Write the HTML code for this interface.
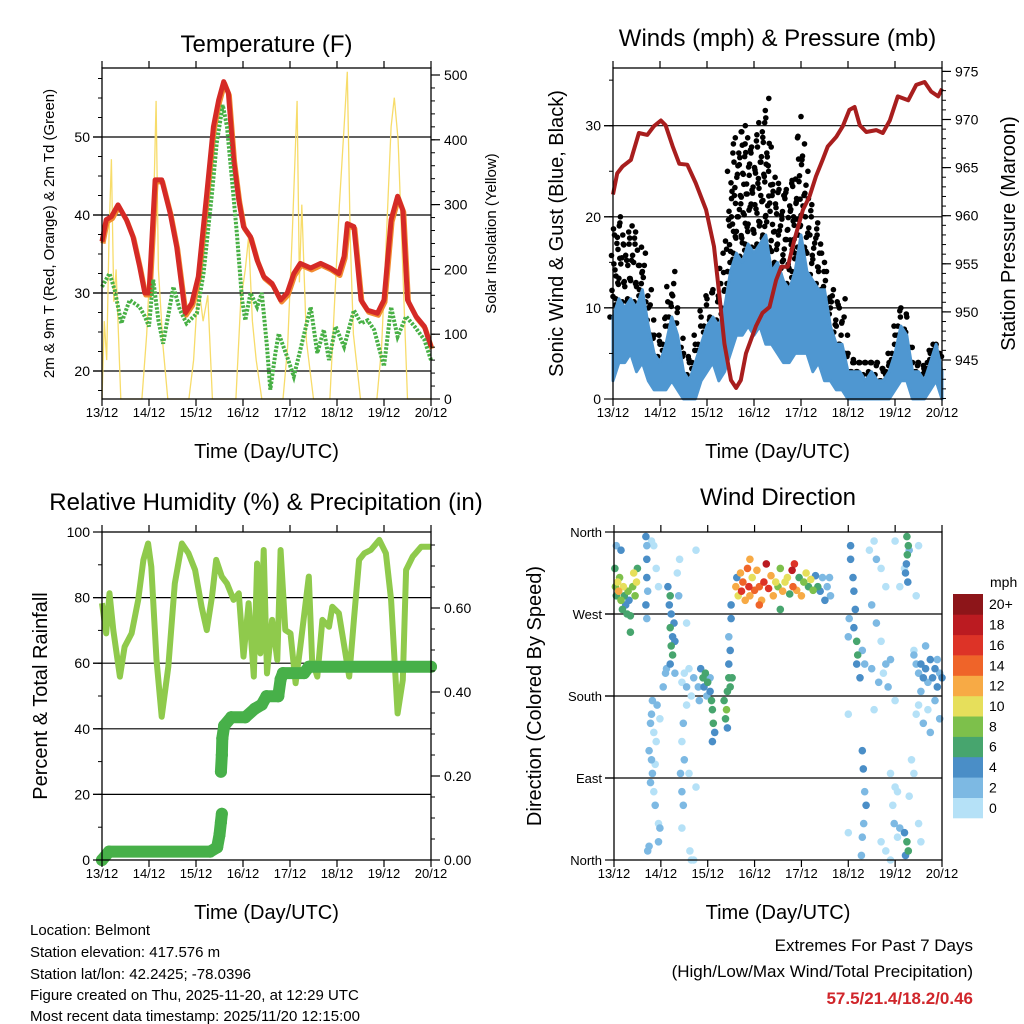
<!DOCTYPE html>
<html><head><meta charset="utf-8"><style>
html,body{margin:0;padding:0;background:#fff;}
svg{display:block;font-family:"Liberation Sans",sans-serif;}
</style></head><body>
<svg id="fig" width="1024" height="1024" viewBox="0 0 1024 1024" xmlns="http://www.w3.org/2000/svg">
<rect width="1024" height="1024" fill="#fff"/>
<g id="g1"></g>
<g id="g2"></g>
<g id="g3"></g>
<g id="g4"></g>
<g font-size="15" fill="#000">
<text x="30" y="935">Location: Belmont</text>
<text x="30" y="957">Station elevation: 417.576 m</text>
<text x="30" y="979">Station lat/lon: 42.2425; -78.0396</text>
<text x="30" y="1000">Figure created on Thu, 2025-11-20, at 12:29 UTC</text>
<text x="30" y="1021">Most recent data timestamp: 2025/11/20 12:15:00</text>
</g>
<g text-anchor="end">
<text x="973" y="951" font-size="17">Extremes For Past 7 Days</text>
<text x="973" y="977" font-size="17">(High/Low/Max Wind/Total Precipitation)</text>
<text x="973" y="1004" font-size="17" font-weight="bold" fill="#d0262b">57.5/21.4/18.2/0.46</text>
</g>
</svg>
<script>
// ---------- data ----------
const dayLabels = ["13/12","14/12","15/12","16/12","17/12","18/12","19/12","20/12"];
const tempT = [0,.09,.2,.34,.52,.66,.8,.91,1.0,1.13,1.27,1.45,1.59,1.77,1.91,2.05,2.23,2.37,2.48,2.59,2.69,2.8,2.91,3.01,3.16,3.3,3.44,3.62,3.8,3.94,4.08,4.22,4.44,4.65,4.86,5.04,5.15,5.22,5.36,5.51,5.65,5.86,6.0,6.15,6.29,6.4,6.5,6.68,6.86,7.0];
const tempV = [36.6,39.4,39.8,41.3,39.4,37.2,33.4,30.0,30.0,44.5,44.5,40.2,35.9,27.4,28.7,32.1,42.8,51.3,54.7,57.1,55.6,47.1,41.9,38.5,37.2,34.2,32.1,31.2,29.1,30.0,32.5,33.8,33.2,33.8,33.2,32.5,34.7,38.9,38.5,29.1,27.8,27.4,29.1,39.4,42.4,40.6,29.1,27.0,25.7,23.1];
const dewT = [0,.16,.27,.41,.59,.8,.91,1.0,1.09,1.2,1.3,1.52,1.66,1.8,2.02,2.16,2.34,2.44,2.57,2.66,2.76,2.87,2.98,3.05,3.16,3.3,3.4,3.51,3.58,3.69,3.76,3.94,4.08,4.22,4.44,4.58,4.72,4.83,4.97,5.15,5.36,5.51,5.65,5.79,6.0,6.15,6.29,6.47,6.65,6.86,7.0];
const dewV = [30.8,32.5,30.4,26.1,29.1,28.2,27.0,25.7,31.7,26.5,23.5,30.8,27.8,26.1,27.4,32.5,42.8,49.2,54.1,51.3,44.9,37.6,29.1,26.5,30.0,28.2,30.0,23.1,17.6,22.3,24.8,21.8,19.3,22.7,28.2,22.3,25.3,21.4,25.7,23.1,27.8,26.1,26.5,25.3,20.6,28.2,24.4,27.0,25.7,24.0,21.4];
const solarT = [0,.05,.1,.15,.2,.25,.3,.4,.85,.95,1.05,1.1,1.15,1.2,1.3,1.4,1.85,1.95,2.05,2.15,2.25,2.35,2.85,2.95,3.05,3.12,3.2,3.28,3.4,3.85,3.95,4.05,4.15,4.2,4.25,4.35,4.5,4.85,4.95,5.05,5.15,5.22,5.28,5.35,5.5,5.85,5.95,6.05,6.15,6.22,6.3,6.4,6.5,7];
const solarV = [0,120,60,250,370,150,200,0,0,100,250,300,460,200,80,0,0,60,180,120,160,0,0,150,200,250,120,60,0,0,80,260,460,180,300,90,0,0,150,300,420,505,250,100,0,0,80,250,420,465,400,200,0,0];
const presT = [0,.09,.2,.38,.55,.73,.87,1.02,1.12,1.27,1.41,1.58,1.76,1.98,2.15,2.26,2.37,2.51,2.62,2.72,2.83,3.04,3.18,3.33,3.47,3.58,3.72,3.86,4.04,4.18,4.32,4.46,4.57,4.75,4.89,5.03,5.14,5.25,5.39,5.6,5.74,5.89,6.06,6.28,6.45,6.63,6.77,6.92,7.0];
const presV = [962.2,964.4,965.1,965.8,968.6,968.4,969.3,969.9,969.4,967.2,965.4,965.3,963.4,960.6,956.8,951.9,946.7,942.9,942.1,942.9,945.7,948.5,949.9,950.5,953.3,954.7,954.7,957.5,960.6,962.0,964.1,965.8,967.2,968.2,969.3,971.0,971.3,969.4,968.7,968.9,968.6,969.9,972.4,972.0,973.6,973.9,972.9,972.4,973.2];
const windT = Array.from({length:57},(_, i)=>i*0.125);
const windHi = [9,11,10,11,10,12,8,5,4,6,9,7,3,2,4,6,8,9,8,10,14,16,15,17,16,17,18,14,15,13,12,14,18,14,13,12,12,8,6,6,3,3,3,2,3,2,2,3,5,8,7,3,3,2,4,6,3];
const windLo = [2,4,4,5,3,4,2,1,1,1,2,1,0,0,0,2,3,4,2,3,5,7,7,8,7,8,6,6,5,4,4,5,5,5,3,4,2,2,1,1,0,0,0,0,0,0,0,0,1,2,2,0,0,0,1,2,0];
const gustV = [18,20,17,19,17,16,12,7,6,9,14,10,5,4,6,9,11,12,11,16,25,28,30,28,27,29,33,25,23,22,23,24,31,22,20,18,15,12,10,11,5,4,4,4,4,4,3,4,7,10,9,4,4,3,5,6,4];
const rhT = [0,.09,.16,.24,.38,.48,.63,.77,.88,.98,1.05,1.16,1.27,1.41,1.55,1.7,1.84,1.98,2.12,2.23,2.34,2.43,2.55,2.66,2.8,2.91,3.01,3.12,3.23,3.3,3.37,3.44,3.51,3.62,3.73,3.8,3.9,4.01,4.12,4.22,4.4,4.47,4.58,4.69,4.83,4.9,5.04,5.26,5.36,5.47,5.58,5.72,5.9,6.04,6.15,6.29,6.4,6.47,6.61,6.79,7.0];
const rhV = [78.3,69.1,81.3,70.1,55.9,65.0,69.1,79.3,91.5,96.5,89.4,61.0,43.7,58.9,84.3,96.5,93.5,88.4,77.2,70.1,80.3,91.5,86.4,84.3,79.3,81.3,62.0,78.3,55.9,90.4,63.0,94.5,56.9,73.2,61.0,94.5,70.1,69.1,53.9,65.0,86.4,61.0,55.9,73.2,71.1,77.2,75.2,55.9,73.2,91.5,93.5,94.5,97.6,93.5,79.3,44.7,54.9,88.4,92.5,95.5,95.5];
const rainT = [0,0.15,2.3,2.45,2.5,2.53,2.55,2.53,2.55,2.56,2.6,2.75,3.05,3.25,3.4,3.5,3.75,3.8,3.85,4.3,4.4,7];
const rainV = [0,0.02,0.02,0.03,0.06,0.09,0.11,0.21,0.25,0.29,0.32,0.34,0.34,0.36,0.37,0.39,0.39,0.43,0.445,0.445,0.46,0.46];
const dirT = [0.02,0.03,0.05,0.08,0.1,0.12,0.15,0.18,0.2,0.22,0.25,0.28,0.3,0.32,0.35,0.4,0.42,0.45,0.48,0.5,0.05,0.15,0.35,
0.68,0.7,0.7,0.7,0.72,0.68,0.7,0.85,0.9,0.95,0.8,
0.82,0.8,0.78,0.85,0.75,0.8,0.82,0.78,0.85,0.88,0.95,0.98,0.72,0.75,0.95,0.9,0.88,0.92,0.98,
1.15,1.2,1.18,1.22,1.2,1.25,1.22,1.25,1.2,1.28,1.3,1.1,1.05,1.12,1.38,1.35,1.4,1.3,
1.45,1.5,1.55,1.6,1.65,1.7,1.55,1.48,1.45,1.5,1.42,1.45,1.48,1.45,1.6,1.75,1.55,1.75,1.62,1.65,1.7,
1.85,1.9,1.95,2.0,2.05,2.08,2.1,2.12,2.15,1.92,1.98,2.05,2.1,1.8,1.82,
2.35,2.4,2.42,2.38,2.45,2.45,2.48,2.45,2.5,2.5,2.42,2.48,2.52,
2.6,2.62,2.65,2.7,2.72,2.75,2.8,2.85,2.88,2.9,2.95,3.0,3.05,3.1,3.15,3.2,3.25,3.3,3.35,3.4,3.45,3.5,3.55,3.6,3.65,3.7,3.75,3.8,3.82,3.85,3.9,3.95,4.0,4.05,4.1,4.15,4.2,4.25,4.3,4.35,4.4,4.45,4.5,4.55,2.9,3.1,3.55,4.6,4.62,
5.05,5.05,5.1,5.12,5.15,5.12,5.18,5.2,5.18,5.25,5.3,5.35,5.0,5.02,5.0,5.0,5.3,5.32,5.35,5.38,5.3,5.28,5.33,
5.45,5.55,5.6,5.7,5.8,5.5,5.6,5.7,5.8,5.9,5.5,5.65,5.75,5.55,5.85,6.0,5.9,6.0,5.95,5.98,6.05,5.7,5.8,5.9,6.1,6.05,6.3,6.35,6.4,6.5,6.55,6.5,6.45,6.3,6.2,6.1,6.0,6.4,
6.25,6.28,6.26,6.24,6.22,6.27,6.25,6.28,6.22,6.2,
6.4,6.45,6.5,6.55,6.6,6.65,6.7,6.75,6.8,6.85,6.9,6.95,7.0,6.55,6.5,6.45,6.6,6.7,6.85,6.95,6.75,6.9,6.65];
const dirDeg = [320,300,290,305,295,310,285,275,300,290,280,270,295,285,268,300,315,290,305,320,345,340,250,
355,345,330,310,295,280,265,345,320,300,350,
175,160,150,140,120,110,95,85,75,60,40,35,10,15,20,130,105,170,155,
300,290,280,270,255,245,235,225,215,260,240,205,190,210,290,315,330,205,
195,205,190,210,180,200,170,150,130,110,95,75,60,35,95,80,260,340,10,0,0,
210,200,205,195,185,175,165,150,140,190,180,200,130,190,175,
175,165,185,155,200,215,230,245,265,280,145,190,200,
300,310,290,315,295,305,285,320,300,290,310,296,318,300,285,305,325,298,312,290,305,300,320,295,305,310,292,318,300,325,296,310,290,305,315,300,308,296,312,300,295,310,285,300,330,280,275,310,290,
345,330,310,295,275,255,240,225,215,200,230,215,245,265,160,30,120,100,75,60,25,5,40,
340,350,330,320,300,280,260,240,215,220,210,195,205,165,190,175,95,80,60,40,25,20,10,0,35,75,70,110,95,40,20,345,290,340,320,300,350,230,
355,345,335,325,315,305,20,10,5,30,
225,215,205,215,200,210,195,220,200,210,190,205,200,185,170,160,150,165,175,155,140,220,235];
const dirSpd = [7,8,6,10,12,9,8,7,11,6,5,7,8,4,6,9,10,8,11,7,3,4,7,
4,3,5,4,3,4,2,1,1,1,1,
2,3,2,1,2,3,2,3,1,2,1,2,3,2,2,1,1,2,1,
5,6,5,4,6,5,7,6,4,5,4,3,2,3,2,1,1,2,
1,1,2,1,1,2,1,2,1,2,3,2,3,1,1,1,1,1,1,1,1,
5,6,7,6,5,6,7,6,5,4,3,2,4,3,2,
6,8,7,6,6,5,4,3,4,4,5,6,7,
12,4,11,13,16,15,12,14,17,13,11,14,12,15,13,16,19,17,13,12,10,8,9,12,11,10,7,18,14,17,13,6,12,9,10,6,11,8,5,7,4,3,4,2,12,14,6,2,3,
4,4,5,4,4,5,6,7,5,4,3,2,2,2,1,1,4,4,3,4,3,3,3,
1,1,2,1,1,2,2,1,2,3,2,3,1,1,2,1,1,1,1,2,1,1,1,1,2,1,1,1,1,1,1,1,1,2,1,1,1,1,
6,7,6,4,4,5,6,7,4,4,
2,3,3,4,5,4,3,4,5,4,4,3,4,2,1,1,2,1,2,3,2,3,2];
const speedColors = ["#b5e1f7","#7db9e3","#4a8ec7","#47a56e","#7dc04b","#e6df5b","#f7aa45","#ef6429","#dd3327","#bb1b21","#8d1519"];
const speedLabels = ["0","2","4","6","8","10","12","14","16","18","20+"];

// ---------- helpers ----------
const NS="http://www.w3.org/2000/svg";
function mk(parent,tag,attrs,text){const e=document.createElementNS(NS,tag);for(const k in attrs)e.setAttribute(k,attrs[k]);if(text!==undefined)e.textContent=text;parent.appendChild(e);return e;}
function pts(ts,vs,fx,fy){return ts.map((t,i)=>fx(t).toFixed(1)+","+fy(vs[i]).toFixed(1)).join(" ");}

function frame(g,P,opt){
  const fx=t=>P.x0+(P.x1-P.x0)*t/7;
  opt.grid.forEach(v=>{const y=opt.yl(v);
    const l=mk(g,"line",{x1:P.x0-9,x2:P.x1,y1:y,y2:y,stroke:"#000","stroke-width":1.2});
    
    });
  return fx;
}
function axes(g,P,opt){
  const fx=t=>P.x0+(P.x1-P.x0)*t/7;
  mk(g,"rect",{x:P.x0,y:P.y0,width:P.x1-P.x0,height:P.y1-P.y0,fill:"none",stroke:"#000","stroke-width":1.3});
  for(let d=0;d<=7;d++){const x=fx(d);
    mk(g,"line",{x1:x,x2:x,y1:P.y1,y2:P.y1+7,stroke:"#000","stroke-width":1.2});
    mk(g,"line",{x1:x,x2:x,y1:P.y0,y2:P.y0-7,stroke:"#000","stroke-width":1.2});
    const t=mk(g,"text",{x:x,y:P.y1+18,"font-size":13,"text-anchor":"middle"},dayLabels[d]);
    
    }
  const xt=mk(g,"text",{x:(P.x0+P.x1)/2,y:P.y1+59,"font-size":20,"text-anchor":"middle"},"Time (Day/UTC)");
  
  
  opt.lmin.forEach(v=>{const y=opt.yl(v);mk(g,"line",{x1:P.x0-4,x2:P.x0,y1:y,y2:y,stroke:"#000"});});
  opt.lmaj.forEach((v,i)=>{const y=opt.yl(v);mk(g,"line",{x1:P.x0-9,x2:P.x0,y1:y,y2:y,stroke:"#000","stroke-width":1.2});
    const t=mk(g,"text",{x:P.x0-12,y:y+5,"font-size":opt.lfs||14,"text-anchor":"end"},opt.llab[i]);
    
    });
  if(opt.yr){
    opt.rmin.forEach(v=>{const y=opt.yr(v);mk(g,"line",{x1:P.x1,x2:P.x1+4,y1:y,y2:y,stroke:"#000"});});
    opt.rmaj.forEach((v,i)=>{const y=opt.yr(v);mk(g,"line",{x1:P.x1,x2:P.x1+9,y1:y,y2:y,stroke:"#000","stroke-width":1.2});
      const t=mk(g,"text",{x:P.x1+13,y:y+5,"font-size":14},opt.rlab[i]);
      
      });
  }
  const tt=mk(g,"text",{x:opt.tx||(P.x0+P.x1)/2,y:opt.ty,"font-size":24,"text-anchor":"middle"},opt.title);
  
  
  const ly=(P.y0+P.y1)/2;
  const lt=mk(g,"text",{x:opt.lx,y:ly,"font-size":opt.lts,"text-anchor":"middle",transform:`rotate(-90 ${opt.lx} ${ly})`},opt.ltitle);
  
  
  if(opt.rtitle){const rt=mk(g,"text",{x:opt.rx,y:ly,"font-size":opt.rts,"text-anchor":"middle",transform:`rotate(-90 ${opt.rx} ${ly})`},opt.rtitle);
    
    }
}
const range=(a,b,s)=>{const r=[];for(let v=a;v<=b+1e-9;v+=s)r.push(+v.toFixed(4));return r;};

// ---------- Panel 1 ----------
(function(){
  const g=document.getElementById("g1");const P={x0:102,x1:431,y0:68,y1:399};
  const yT=v=>371-(v-20)*7.8, yS=v=>399-v*0.648;
  const opt={yl:yT,grid:[20,30,40,50],lmaj:[20,30,40,50],llab:["20","30","40","50"],lmin:range(17.5,57.5,5).concat(range(20,55,2.5)),
    yr:yS,rmaj:[0,100,200,300,400,500],rlab:["0","100","200","300","400","500"],rmin:range(0,500,20),
    title:"Temperature (F)",ty:52,ltitle:"2m & 9m T (Red, Orange) & 2m Td (Green)",lx:54,lts:15,rtitle:"Solar Insolation (Yellow)",rx:496,rts:15};
  const fx=frame(g,P,opt);
  const s=mk(g,"polyline",{points:pts(solarT,solarV,fx,yS),fill:"none",stroke:"#f7dc6a","stroke-width":1.3});
  
  
  const o=mk(g,"polyline",{points:pts(tempT,tempV,t=>fx(t)+1,v=>yT(v)+2),fill:"none",stroke:"#f28b30","stroke-width":5,"stroke-linejoin":"round"});
  
  
  const r=mk(g,"polyline",{points:pts(tempT,tempV,fx,yT),fill:"none",stroke:"#d52a26","stroke-width":5,"stroke-linejoin":"round"});
  
  
  const d=mk(g,"polyline",{points:pts(dewT,dewV,fx,yT),fill:"none",stroke:"#48b045","stroke-width":4,"stroke-dasharray":"2.5 1.5"});
  
  
  axes(g,P,opt);
})();

// ---------- Panel 2 ----------
(function(){
  const g=document.getElementById("g2");const P={x0:613,x1:942,y0:68,y1:399};
  const yW=v=>399-v*9.11, yP=p=>360-(p-945)*9.62;
  const opt={yl:yW,grid:[10,20,30],lmaj:[0,10,20,30],llab:["0","10","20","30"],lmin:range(0,35,5),
    yr:yP,rmaj:[945,950,955,960,965,970,975],rlab:["945","950","955","960","965","970","975"],rmin:range(941,975,1),
    title:"Winds (mph) & Pressure (mb)",ty:46,ltitle:"Sonic Wind & Gust (Blue, Black)",lx:563,lts:20,rtitle:"Station Pressure (Maroon)",rx:1015,rts:20};
  const fx=frame(g,P,opt);
  const gd=mk(g,"g",{fill:"#000"});
  
  
  for(let i=0;i<windT.length-1;i++){
    for(let s=0;s<3;s++){const f=s/3;const t=windT[i]+f*0.125;
      const hi=windHi[i]+(windHi[i+1]-windHi[i])*f, gu=gustV[i]+(gustV[i+1]-gustV[i])*f;
      const n=Math.max(1,Math.round((gu-hi)/2.2));
      for(let k=0;k<=n;k++){const v=hi+(gu-hi)*k/n;const xo=((k*7+s*3)%5-2)*1.5;
        mk(gd,"circle",{cx:(fx(t)+xo).toFixed(1),cy:yW(v).toFixed(1),r:2.8});}
    }
  }
  const band=windT.map((t,i)=>fx(t).toFixed(1)+","+yW(windHi[i]).toFixed(1)).join(" ")+" "+windT.slice().reverse().map((t,j)=>{const i=windT.length-1-j;return fx(t).toFixed(1)+","+yW(windLo[i]).toFixed(1);}).join(" ");
  const b=mk(g,"polygon",{points:band,fill:"#4f97d1",stroke:"#4f97d1","stroke-width":3,"stroke-linejoin":"round"});
  
  
  const p=mk(g,"polyline",{points:pts(presT,presV,fx,yP),fill:"none",stroke:"#a81e1e","stroke-width":4,"stroke-linejoin":"round"});
  
  
  axes(g,P,opt);
})();

// ---------- Panel 3 ----------
(function(){
  const g=document.getElementById("g3");const P={x0:102,x1:431,y0:532,y1:860};
  const yR=v=>860-v*3.28, yRain=v=>860-v*420;
  const opt={yl:yR,grid:[20,40,60,80],lmaj:[0,20,40,60,80,100],llab:["0","20","40","60","80","100"],lmin:range(0,100,10),
    yr:yRain,rmaj:[0,0.2,0.4,0.6],rlab:["0.00","0.20","0.40","0.60"],rmin:range(0,0.75,0.05),
    title:"Relative Humidity (%) & Precipitation (in)",tx:266,ty:510,ltitle:"Percent & Total Rainfall",lx:47,lts:20};
  const fx=frame(g,P,opt);
  const rh=mk(g,"polyline",{points:pts(rhT,rhV,fx,yR),fill:"none",stroke:"#8fca4c","stroke-width":6,"stroke-linejoin":"round"});
  
  
  const rg=mk(g,"g",{fill:"#47b049",stroke:"#47b049"});
  
  
  for(let i=0;i<rainT.length;i++){
    mk(rg,"circle",{cx:fx(rainT[i]),cy:yRain(rainV[i]),r:6,stroke:"none"});
    if(i>0&&Math.abs(rainV[i]-rainV[i-1])<0.06)mk(rg,"line",{x1:fx(rainT[i-1]),y1:yRain(rainV[i-1]),x2:fx(rainT[i]),y2:yRain(rainV[i]),"stroke-width":12,"stroke-linecap":"round"});
  }
  axes(g,P,opt);
})();

// ---------- Panel 4 ----------
(function(){
  const g=document.getElementById("g4");const P={x0:614,x1:942,y0:532,y1:860};
  const yD=d=>860-d*328/360;
  const opt={yl:yD,grid:[90,180,270],lmaj:[0,90,180,270,360],llab:["North","East","South","West","North"],lmin:[],lfs:13,
    title:"Wind Direction",ty:505,ltitle:"Direction (Colored By Speed)",lx:541,lts:20};
  const fx=frame(g,P,opt);
  const dg=mk(g,"g",{});
  
  
  const order=dirSpd.map((s,i)=>i).sort((a,b)=>dirSpd[a]-dirSpd[b]);
  order.forEach(i=>{const c=speedColors[Math.min(10,Math.floor(dirSpd[i]/2))];
    mk(dg,"circle",{cx:fx(dirT[i]).toFixed(1),cy:yD(dirDeg[i]).toFixed(1),r:3.8,fill:c});});
  axes(g,P,opt);
  const cb=mk(g,"g",{});
  
  
  const bh=224/11;
  for(let k=0;k<11;k++){const y=594+(10-k)*bh;
    mk(cb,"rect",{x:953,y:y.toFixed(1),width:30,height:(bh+0.3).toFixed(1),fill:speedColors[k]});
    const t=mk(cb,"text",{x:989,y:(y+bh/2+5).toFixed(1),"font-size":14},speedLabels[k]);
    
    }
  const m=mk(cb,"text",{x:990,y:587,"font-size":14},"mph");
  
  
})();
</script>
</body></html>
